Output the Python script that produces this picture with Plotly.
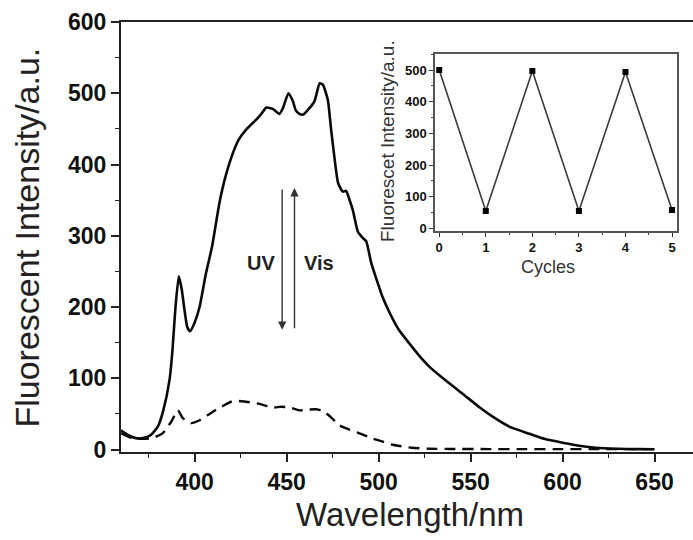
import plotly.graph_objects as go

# Emission spectra (wavelength in nm, intensity in a.u.)
solid_wl = [360, 364, 368, 372, 376, 380, 383, 386.4, 388, 389.5, 391.4, 393, 394.5, 396,
            397.5, 400, 402.7, 406, 409.5, 413.5, 417, 420.8, 424, 428, 433.5, 436, 439,
            442.5, 446, 448, 451, 453.4, 455, 457, 459, 462.4, 465.2, 468, 469.7, 472.4,
            474.2, 476, 478, 480.5, 482.4, 484, 486, 488.7, 491, 493.3, 496, 499.5, 502,
            506, 511, 517, 521, 527.7, 535, 545.8, 555, 563.9, 572, 582, 590, 600, 610,
            618, 630, 640, 650]
solid_int = [27, 20, 16, 16, 20, 32, 55, 98, 140, 196, 243, 225, 196, 172,
             166, 178, 200, 245, 285, 346, 385, 416, 435, 449, 463, 470, 480,
             478, 471, 479, 500, 489, 476, 471, 470, 479, 489, 514, 512, 491,
             449, 410, 374, 362, 363, 352, 336, 306, 298, 292, 262, 234, 215,
             192, 168, 148, 135, 116, 100, 78, 59, 43, 31, 22, 15, 9.6, 5,
             2.5, 1, 0.5, 0.3]

dash_wl = [360, 366, 372, 377, 382.7, 387.3, 390.9, 393.6, 398.1, 402.7, 407, 411.7, 416,
           419.9, 424, 428, 435.3, 442.5, 447, 451.6, 457, 462, 466, 468.5, 471.5, 475,
           478.7, 484, 489.6, 496, 502.3, 507, 511.4, 518, 527.7, 540, 560, 580, 600,
           620, 650]
dash_int = [23, 16, 15, 16, 23, 39, 55, 44, 37, 41, 48, 56, 62,
            67, 68, 67, 64, 59, 60, 59, 55, 56, 56.5, 55, 51, 43,
            34, 28, 22.7, 16, 11, 7, 4.9, 2.5, 1, 0.8, 0.6, 0.5, 0.5,
            0.5, 0.5]

# Switching cycles (inset)
cycles = [0, 1, 2, 3, 4, 5]
cycle_int = [500, 55, 497, 55, 494, 58]

# Arrow extents (intensity) and labels
arrow_wl = [447.6, 454.3]
arrow_int = [367, 168]
arrow_labels = ["UV", "Vis"]

FONT = "Liberation Sans, Arial, sans-serif"

fig = go.Figure()
fig.add_trace(go.Scatter(x=solid_wl, y=solid_int, mode="lines",
                         line=dict(color="#0a0a0a", width=2.6, shape="spline", smoothing=0.5),
                         showlegend=False))
fig.add_trace(go.Scatter(x=dash_wl, y=dash_int, mode="lines",
                         line=dict(color="#0a0a0a", width=2.4, dash="11px,7px",
                                   shape="spline", smoothing=0.5),
                         showlegend=False))
fig.add_trace(go.Scatter(x=cycles, y=cycle_int, mode="lines+markers", xaxis="x2", yaxis="y2",
                         line=dict(color="#3a3a3a", width=1.6),
                         marker=dict(symbol="square", size=6, color="#000"),
                         showlegend=False))

# Photo-switching arrows
fig.add_annotation(x=arrow_wl[0], y=arrow_int[1], ax=arrow_wl[0], ay=arrow_int[0],
                   xref="x", yref="y", axref="x", ayref="y", text="", showarrow=True,
                   arrowhead=2, arrowsize=1.2, arrowwidth=1.4, arrowcolor="#333")
fig.add_annotation(x=arrow_wl[1], y=arrow_int[0], ax=arrow_wl[1], ay=arrow_int[1],
                   xref="x", yref="y", axref="x", ayref="y", text="", showarrow=True,
                   arrowhead=2, arrowsize=1.2, arrowwidth=1.4, arrowcolor="#333")
fig.add_annotation(x=arrow_wl[0] - 11.5, y=262, xref="x", yref="y", text=arrow_labels[0],
                   showarrow=False, xanchor="center", yanchor="middle",
                   font=dict(family=FONT, size=20, color="#222", weight="bold"))
fig.add_annotation(x=arrow_wl[1] + 13.5, y=262, xref="x", yref="y", text=arrow_labels[1],
                   showarrow=False, xanchor="center", yanchor="middle",
                   font=dict(family=FONT, size=20, color="#222", weight="bold"))

# Axis titles
fig.add_annotation(x=-0.166, y=0.4988, xref="paper", yref="paper",
                   xanchor="center", yanchor="middle",
                   text="Fluorescent Intensity/a.u.", textangle=-90, showarrow=False,
                   font=dict(family=FONT, size=34, color="#222"))
fig.add_annotation(x=0.505, y=-0.146, xref="paper", yref="paper",
                   xanchor="center", yanchor="middle",
                   text="Wavelength/nm", showarrow=False,
                   font=dict(family=FONT, size=33, color="#222"))
fig.add_annotation(x=-0.194, y=0.51, xref="x2 domain", yref="y2 domain",
                   xanchor="center", yanchor="middle",
                   text="Fluorescet Intensity/a.u.", textangle=-90, showarrow=False,
                   font=dict(family=FONT, size=19, color="#333"))
fig.add_annotation(x=0.4675, y=-0.205, xref="x2 domain", yref="y2 domain",
                   xanchor="center", yanchor="middle",
                   text="Cycles", showarrow=False,
                   font=dict(family=FONT, size=18, color="#333"))

tickfont = dict(family=FONT, size=23, color="#111", weight="bold")
inset_font = dict(family=FONT, size=13, color="#111", weight="bold")

fig.update_layout(
    width=693, height=540,
    margin=dict(l=121, r=0, t=22, b=88),
    paper_bgcolor="white", plot_bgcolor="white",
    xaxis=dict(range=[360, 670.9], dtick=50, tick0=0, ticks="outside", ticklen=8,
               tickwidth=1.6, tickcolor="#222", showline=True, linecolor="#222",
               linewidth=2, mirror=True, showgrid=False, zeroline=False,
               tickfont=tickfont,
               minor=dict(dtick=25, tick0=0, ticks="outside", ticklen=4, tickwidth=1.4,
                          tickcolor="#222", showgrid=False)),
    yaxis=dict(range=[-3.5, 600], dtick=100, tick0=0, ticks="outside", ticklen=8,
               tickwidth=1.6, tickcolor="#222", showline=True, linecolor="#222",
               linewidth=2, showgrid=False, zeroline=False, tickfont=tickfont,
               minor=dict(dtick=50, tick0=0, ticks="outside", ticklen=4, tickwidth=1.4,
                          tickcolor="#222", showgrid=False)),
    xaxis2=dict(domain=[0.549, 0.9715], anchor="y2", range=[-0.09, 5.1], dtick=1, tick0=0,
                ticks="outside", ticklen=4, tickwidth=1.2, tickcolor="#333",
                showline=True, linecolor="#555", linewidth=1.6, mirror=True,
                showgrid=False, zeroline=False, tickfont=inset_font,
                minor=dict(dtick=0.5, ticks="outside", ticklen=2.5, tickwidth=1,
                           tickcolor="#444", showgrid=False)),
    yaxis2=dict(domain=[0.514, 0.925], anchor="x2", range=[-8, 550], dtick=100, tick0=0,
                ticks="outside", ticklen=4, tickwidth=1.2, tickcolor="#333",
                showline=True, linecolor="#555", linewidth=1.6, mirror=True,
                showgrid=False, zeroline=False, tickfont=inset_font,
                minor=dict(dtick=50, ticks="outside", ticklen=2.5, tickwidth=1,
                           tickcolor="#444", showgrid=False)),
)

fig.write_html("out.html")
